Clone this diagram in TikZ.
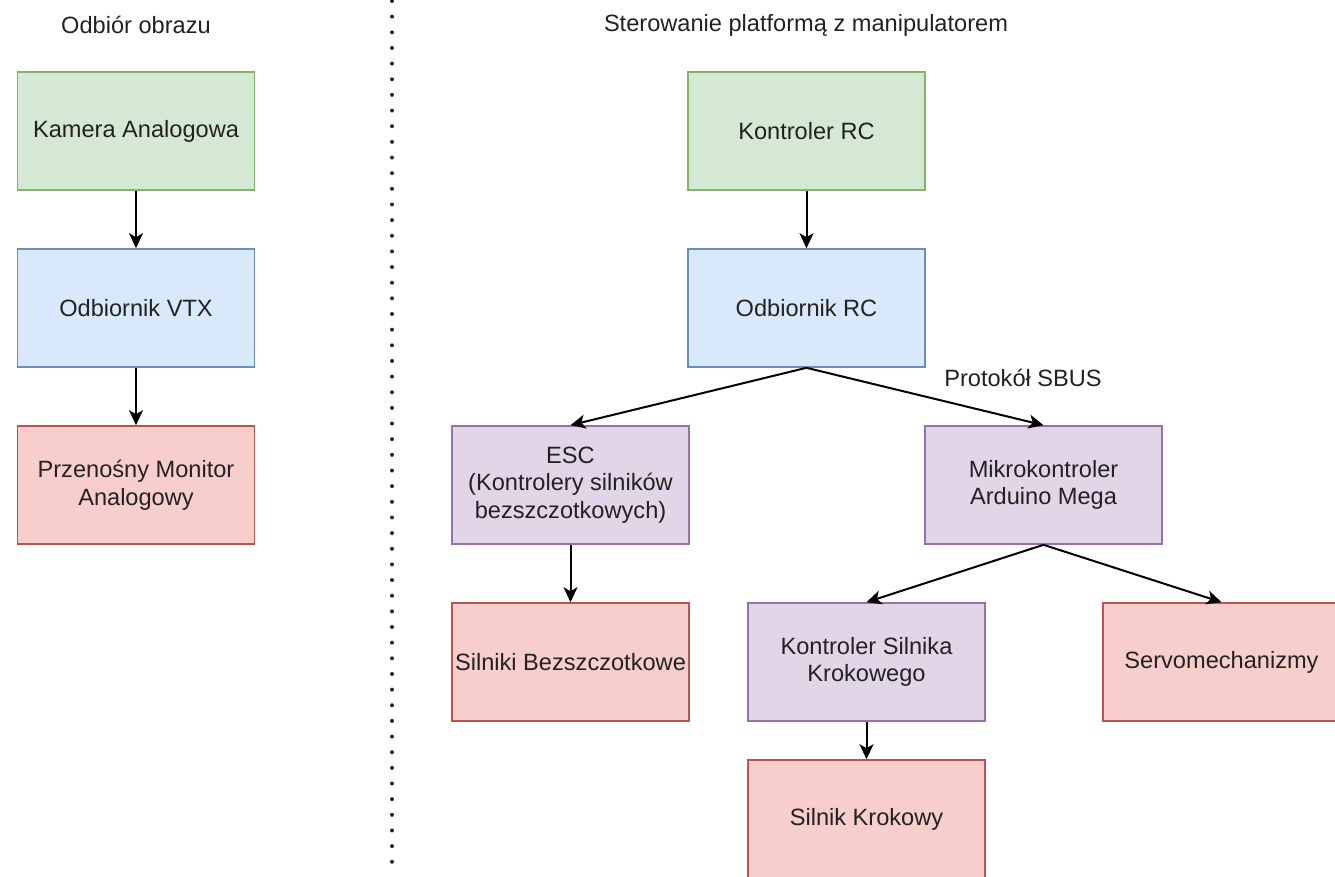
\documentclass[tikz,border=0pt]{standalone}
\usepackage{fontspec}
\setmainfont{Liberation Sans}
\usetikzlibrary{arrows.meta}
\definecolor{gfill}{HTML}{D5E8D4}\definecolor{gline}{HTML}{82B366}
\definecolor{bfill}{HTML}{DAE8FC}\definecolor{bline}{HTML}{6C8EBF}
\definecolor{rfill}{HTML}{F8CECC}\definecolor{rline}{HTML}{B85450}
\definecolor{pfill}{HTML}{E1D5E7}\definecolor{pline}{HTML}{9673A6}
\definecolor{txt}{HTML}{222222}
\tikzset{
  box/.style={rectangle, minimum width=237pt, minimum height=118pt, inner sep=0pt, line width=1.6pt, align=center, text=txt,
    font=\fontsize{23.6}{27.6}\selectfont},
  gbox/.style={box, fill=gfill, draw=gline},
  bbox/.style={box, fill=bfill, draw=bline},
  rbox/.style={box, fill=rfill, draw=rline},
  pbox/.style={box, fill=pfill, draw=pline},
  lbl/.style={text=txt, font=\fontsize{23.6}{27.6}\selectfont, inner sep=0pt},
  conn/.style={line width=2pt, -{Stealth[length=15pt, width=14pt, inset=4pt]}},
}
\begin{document}
\begin{tikzpicture}[x=1pt, y=-1pt]
\useasboundingbox (0,0) rectangle (1335,876);
\clip (0,0) rectangle (1335,876);
\fill[white] (0,0) rectangle (1335,876);
% dotted separator
\coordinate (dtop) at (392,1);
\coordinate (dbot) at (392,876);
\draw[line width=4pt, line cap=round, dash pattern=on 0pt off 15.65pt, black!85] (dtop) -- (dbot);
% titles
\node[lbl] (t1) at (136,25) {Odbiór obrazu};
\node[lbl] (t2) at (806,25) {Sterowanie platformą z manipulatorem};
% left column
\node[gbox] (kam) at (136,131) {Kamera Analogowa};
\node[bbox] (vtx) at (136,308) {Odbiornik VTX};
\node[rbox] (mon) at (136,485) {Przenośny Monitor\\Analogowy};
% right
\node[gbox] (krc) at (806.5,131) {Kontroler RC};
\node[bbox] (orc) at (806.5,308) {Odbiornik RC};
\node[pbox] (esc) at (570.5,485) {ESC\\(Kontrolery silników\\bezszczotkowych)};
\node[pbox] (mik) at (1043.5,485) {Mikrokontroler\\Arduino Mega};
\node[rbox] (sil) at (570.5,662) {Silniki Bezszczotkowe};
\node[pbox] (ksk) at (866.5,662) {Kontroler Silnika\\Krokowego};
\node[rbox] (srv) at (1221.5,662) {Servomechanizmy};
\node[rbox] (skr) at (866.5,819) {Silnik Krokowy};
\node[lbl] (sbus) at (1023,378) {Protokół SBUS};
% connectors
\draw[conn] (kam.south) -- (vtx.north);
\draw[conn] (vtx.south) -- (mon.north);
\draw[conn] (krc.south) -- (orc.north);
\draw[conn] (orc.south) -- (esc.north);
\draw[conn] (orc.south) -- (mik.north);
\draw[conn] (esc.south) -- (sil.north);
\draw[conn] (mik.south) -- (ksk.north);
\draw[conn] (mik.south) -- (srv.north);
\draw[conn] (ksk.south) -- (skr.north);
\end{tikzpicture}
\end{document}
